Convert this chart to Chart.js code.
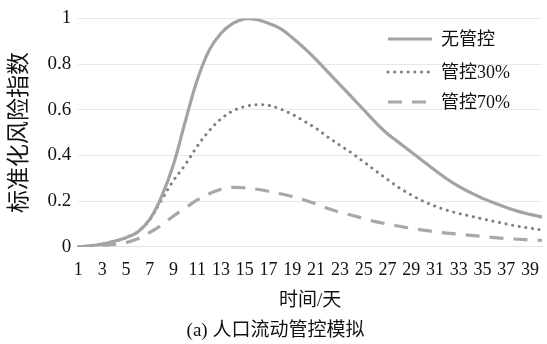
<!DOCTYPE html>
<html>
<head>
<meta charset="utf-8">
<script src="https://cdn.jsdelivr.net/npm/chart.js@4/dist/chart.umd.min.js"></script>
<style>
  html, body { margin: 0; padding: 0; background: #fff; }
  #wrap { width: 547px; height: 344px; }
</style>
</head>
<body>
<div id="wrap"><canvas id="riskChart"></canvas></div>
<script>
// 时间/天
const days = Array.from({ length: 40 }, (_, i) => String(i + 1));

// 标准化风险指数
const noControl = [0, 0.004, 0.012, 0.024, 0.04, 0.065, 0.12, 0.22, 0.36, 0.55,
  0.73, 0.86, 0.935, 0.978, 0.998, 0.995, 0.978, 0.955, 0.915, 0.87,
  0.82, 0.765, 0.71, 0.655, 0.6, 0.545, 0.495, 0.455, 0.415, 0.375,
  0.335, 0.297, 0.265, 0.237, 0.212, 0.192, 0.172, 0.155, 0.142, 0.13];
const control30 = [0, 0.004, 0.012, 0.023, 0.04, 0.065, 0.118, 0.205, 0.29, 0.36,
  0.44, 0.508, 0.56, 0.595, 0.614, 0.622, 0.619, 0.603, 0.58, 0.55,
  0.518, 0.48, 0.445, 0.41, 0.372, 0.333, 0.295, 0.258, 0.227, 0.2,
  0.178, 0.16, 0.146, 0.134, 0.122, 0.111, 0.1, 0.09, 0.082, 0.073];
const control70 = [0, 0.002, 0.005, 0.01, 0.018, 0.035, 0.063, 0.095, 0.135, 0.17,
  0.205, 0.232, 0.252, 0.26, 0.258, 0.252, 0.243, 0.232, 0.22, 0.205,
  0.188, 0.168, 0.151, 0.138, 0.124, 0.11, 0.1, 0.09, 0.081, 0.073,
  0.066, 0.06, 0.055, 0.05, 0.045, 0.04, 0.036, 0.033, 0.03, 0.028];

const seriesNames = ['无管控', '管控30%', '管控70%'];
const yTicks = [0, 0.2, 0.4, 0.6, 0.8, 1];

const serif = '"Liberation Serif", "Times New Roman", "DejaVu Serif", "Noto Sans CJK SC", serif';

// legend drawn inside the plot, top right
const insideLegend = {
  id: 'insideLegend',
  afterDatasetsDraw(chart) {
    const ctx = chart.ctx;
    const x0 = 388, len = 44;
    const rows = [39, 72, 102];
    chart.data.datasets.forEach((ds, i) => {
      ctx.save();
      ctx.strokeStyle = ds.borderColor;
      ctx.lineWidth = ds.borderWidth;
      ctx.lineCap = ds.borderCapStyle || 'butt';
      ctx.setLineDash(ds.borderDash || []);
      ctx.beginPath();
      ctx.moveTo(x0, rows[i]);
      ctx.lineTo(x0 + len, rows[i]);
      ctx.stroke();
      ctx.restore();
      ctx.save();
      ctx.fillStyle = '#111';
      ctx.font = '18px ' + serif;
      ctx.textBaseline = 'middle';
      ctx.fillText(ds.label, 441, rows[i] + 1);
      ctx.restore();
    });
  }
};

const ctx = document.getElementById('riskChart');
new Chart(ctx, {
  type: 'line',
  data: {
    labels: days,
    datasets: [
      {
        label: seriesNames[0],
        data: noControl,
        borderColor: '#a3a3a3',
        borderWidth: 3.2,
        pointRadius: 0,
        tension: 0.35
      },
      {
        label: seriesNames[1],
        data: control30,
        borderColor: '#7f7f7f',
        borderWidth: 3,
        borderDash: [0.1, 6.6],
        borderCapStyle: 'round',
        pointRadius: 0,
        tension: 0.35
      },
      {
        label: seriesNames[2],
        data: control70,
        borderColor: '#a8a8a8',
        borderWidth: 3.2,
        borderDash: [14, 10],
        pointRadius: 0,
        tension: 0.35
      }
    ]
  },
  options: {
    responsive: true,
    maintainAspectRatio: false,
    animation: false,
    layout: { padding: { left: 6, right: 2, top: 1, bottom: 2 } },
    plugins: {
      legend: { display: false },
      tooltip: { enabled: false },
      title: {
        display: true,
        position: 'bottom',
        text: '(a) 人口流动管控模拟',
        color: '#111',
        font: { family: serif, size: 19, weight: 'normal' },
        padding: { top: 4, bottom: 0 }
      }
    },
    scales: {
      x: {
        offset: false,
        grid: { display: false },
        border: { display: true, color: '#e2e2e2' },
        ticks: {
          autoSkip: false,
          maxRotation: 0,
          color: '#111',
          padding: 5,
          font: { family: serif, size: 18 },
          callback: function(val, idx) {
            return idx % 2 === 0 ? days[idx] : '';
          }
        },
        title: {
          display: true,
          text: '时间/天',
          color: '#111',
          font: { family: serif, size: 19 },
          padding: { top: 3, bottom: 3 }
        }
      },
      y: {
        min: 0,
        max: 1,
        afterBuildTicks: axis => { axis.ticks = yTicks.map(v => ({ value: v })); },
        grid: { color: '#e8e8e8', drawTicks: false },
        border: { display: false },
        ticks: {
          color: '#111',
          padding: 7,
          font: { family: serif, size: 19 },
          callback: v => String(+v.toFixed(1))
        },
        title: {
          display: true,
          text: '标准化风险指数',
          color: '#111',
          font: { family: serif, size: 23 },
          padding: { top: 0, bottom: 7 }
        }
      }
    }
  },
  plugins: [insideLegend]
});
</script>
</body>
</html>
